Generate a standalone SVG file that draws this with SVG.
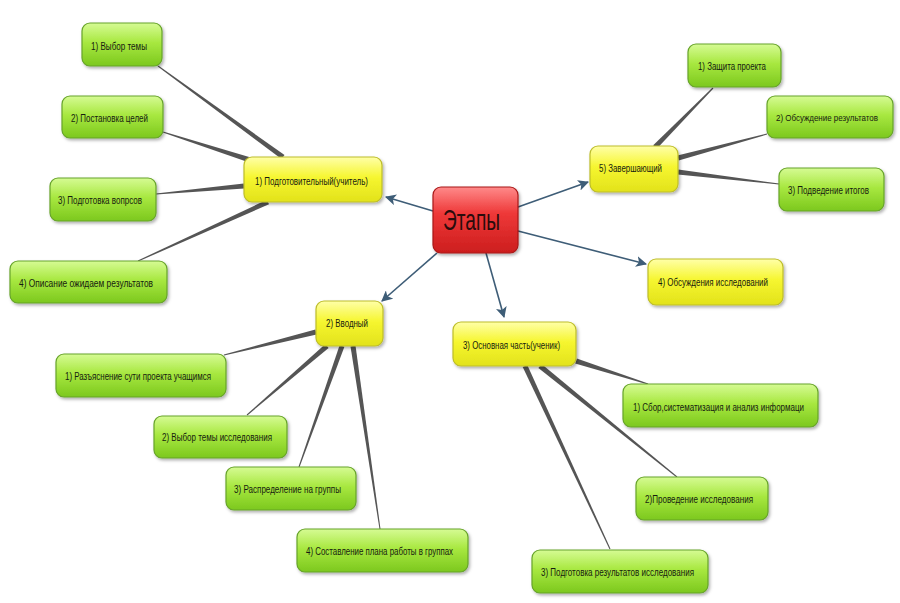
<svg xmlns="http://www.w3.org/2000/svg" width="900" height="603" viewBox="0 0 900 603">
<defs>
<linearGradient id="gGreen" x1="0" y1="0" x2="0" y2="1">
<stop offset="0" stop-color="#d6fb94"/>
<stop offset="0.45" stop-color="#a8e840"/>
<stop offset="1" stop-color="#7cc81e"/>
</linearGradient>
<linearGradient id="gYellow" x1="0" y1="0" x2="0" y2="1">
<stop offset="0" stop-color="#ffffa8"/>
<stop offset="0.45" stop-color="#f6f630"/>
<stop offset="1" stop-color="#e2e21a"/>
</linearGradient>
<linearGradient id="gRed" x1="0" y1="0" x2="0" y2="1">
<stop offset="0" stop-color="#ff8a8a"/>
<stop offset="0.4" stop-color="#ee3838"/>
<stop offset="1" stop-color="#cc1e1e"/>
</linearGradient>
<filter id="sh" x="-10%" y="-20%" width="130%" height="150%">
<feDropShadow dx="1.5" dy="2" stdDeviation="1.5" flood-color="#000" flood-opacity="0.3"/>
</filter>
<marker id="arr" viewBox="0 0 10 10" refX="9" refY="5" markerWidth="11" markerHeight="11" markerUnits="userSpaceOnUse" orient="auto">
<path d="M0,0 L10,5 L0,10 L2.5,5 Z" fill="#3e5d77"/>
</marker>
<style>
.g{fill:url(#gGreen);stroke:#66a32a;stroke-width:1.2;filter:url(#sh)}
.y{fill:url(#gYellow);stroke:#bdbd2a;stroke-width:1.2;filter:url(#sh)}
.r{fill:url(#gRed);stroke:#a81818;stroke-width:1.2;filter:url(#sh)}
text{font-family:"Liberation Sans Narrow","Liberation Sans","DejaVu Sans Condensed",sans-serif;font-size:11px;fill:#161c10;text-anchor:middle}
.sm{font-size:9px}
.big{font-size:30px;fill:#2a0c0c}
.c{fill:#555}
.a{stroke:#3e5d77;stroke-width:1.6;fill:none;marker-end:url(#arr)}
</style>
</defs>
<rect width="900" height="603" fill="#ffffff"/>

<g id="connectors">
<polygon class="c" points="284.5,155.0 158.3,65.6 157.7,66.4 281.5,159.0"/>
<polygon class="c" points="250.8,157.6 163.2,131.5 162.8,132.5 249.2,162.4"/>
<polygon class="c" points="243.8,183.5 156.0,193.5 156.1,194.5 244.2,188.5"/>
<polygon class="c" points="267.0,199.7 137.8,260.5 138.2,261.5 269.0,204.3"/>
<polygon class="c" points="656.8,148.8 713.4,88.4 712.6,87.6 653.2,145.2"/>
<polygon class="c" points="678.7,160.4 767.1,134.5 766.9,133.5 677.4,155.6"/>
<polygon class="c" points="677.7,174.5 778.9,184.5 779.1,183.5 678.3,169.5"/>
<polygon class="c" points="315.4,329.6 223.9,354.5 224.1,355.5 316.6,334.4"/>
<polygon class="c" points="325.4,344.1 246.7,414.6 247.3,415.4 328.6,347.9"/>
<polygon class="c" points="339.6,345.2 298.5,466.8 299.5,467.2 344.4,346.8"/>
<polygon class="c" points="350.5,346.4 379.5,529.1 380.5,528.9 355.5,345.6"/>
<polygon class="c" points="575.2,363.4 647.8,384.5 648.2,383.5 576.8,358.6"/>
<polygon class="c" points="538.4,367.9 676.7,477.4 677.3,476.6 541.6,364.1"/>
<polygon class="c" points="522.7,367.1 609.5,549.2 610.5,548.8 527.3,364.9"/>
<line class="a" x1="433" y1="211" x2="386" y2="197"/>
<line class="a" x1="518" y1="207" x2="588" y2="182"/>
<line class="a" x1="518" y1="231" x2="646" y2="264"/>
<line class="a" x1="486" y1="253" x2="504" y2="317"/>
<line class="a" x1="437" y1="253" x2="382" y2="301"/>
</g>

<g id="n-etapy"><rect class="r" x="433" y="187" width="85" height="66" rx="8"/><text class="big" x="471.5" y="230" textLength="57" lengthAdjust="spacingAndGlyphs">Этапы</text></g>

<g id="n-prep"><rect class="y" x="244" y="157" width="138" height="45" rx="8"/><text x="311.5" y="185" textLength="113" lengthAdjust="spacingAndGlyphs">1) Подготовительный(учитель)</text></g>
<g id="n-prep-1"><rect class="g" x="82" y="23" width="80" height="43" rx="8"/><text x="119" y="50" textLength="56" lengthAdjust="spacingAndGlyphs">1) Выбор темы</text></g>
<g id="n-prep-2"><rect class="g" x="62" y="96" width="101" height="42" rx="8"/><text x="109.5" y="122" textLength="77" lengthAdjust="spacingAndGlyphs">2) Постановка целей</text></g>
<g id="n-prep-3"><rect class="g" x="50" y="178" width="106" height="43" rx="8"/><text x="100" y="204" textLength="84" lengthAdjust="spacingAndGlyphs">3) Подготовка вопрсов</text></g>
<g id="n-prep-4"><rect class="g" x="10" y="261" width="157" height="42" rx="8"/><text x="86" y="287" textLength="134" lengthAdjust="spacingAndGlyphs">4) Описание ожидаем результатов</text></g>

<g id="n-final"><rect class="y" x="590" y="146" width="88" height="46" rx="8"/><text x="630.5" y="172" textLength="63" lengthAdjust="spacingAndGlyphs">5) Завершающий</text></g>
<g id="n-final-1"><rect class="g" x="688" y="44" width="93" height="43" rx="8"/><text x="732" y="70" textLength="68" lengthAdjust="spacingAndGlyphs">1) Защита проекта</text></g>
<g id="n-final-2"><rect class="g" x="767" y="96" width="126" height="42" rx="8"/><text class="sm" x="827" y="121" textLength="102" lengthAdjust="spacingAndGlyphs">2) Обсуждение результатов</text></g>
<g id="n-final-3"><rect class="g" x="779" y="168" width="105" height="43" rx="8"/><text x="828.5" y="194" textLength="81" lengthAdjust="spacingAndGlyphs">3) Подведение итогов</text></g>

<g id="n-discuss"><rect class="y" x="648" y="259" width="135" height="46" rx="8"/><text x="713" y="286" textLength="110" lengthAdjust="spacingAndGlyphs">4) Обсуждения исследований</text></g>

<g id="n-intro"><rect class="y" x="316" y="301" width="67" height="45" rx="8"/><text x="347" y="327" textLength="42" lengthAdjust="spacingAndGlyphs">2) Вводный</text></g>
<g id="n-intro-1"><rect class="g" x="56" y="354" width="170" height="43" rx="8"/><text x="138" y="380" textLength="146" lengthAdjust="spacingAndGlyphs">1) Разъяснение сути проекта учащимся</text></g>
<g id="n-intro-2"><rect class="g" x="154" y="416" width="133" height="42" rx="8"/><text x="217" y="441" textLength="110" lengthAdjust="spacingAndGlyphs">2) Выбор темы исследования</text></g>
<g id="n-intro-3"><rect class="g" x="226" y="467" width="130" height="43" rx="8"/><text x="287.5" y="493" textLength="107" lengthAdjust="spacingAndGlyphs">3) Распределение на группы</text></g>
<g id="n-intro-4"><rect class="g" x="297" y="529" width="171" height="43" rx="8"/><text x="379.5" y="555" textLength="147" lengthAdjust="spacingAndGlyphs">4) Составление плана работы в группах</text></g>

<g id="n-main"><rect class="y" x="453" y="322" width="123" height="44" rx="8"/><text x="511.5" y="349" textLength="97" lengthAdjust="spacingAndGlyphs">3) Основная часть(ученик)</text></g>
<g id="n-main-1"><rect class="g" x="623" y="384" width="195" height="43" rx="8"/><text x="718.5" y="411" textLength="171" lengthAdjust="spacingAndGlyphs">1) Сбор,систематизация и анализ информаци</text></g>
<g id="n-main-2"><rect class="g" x="636" y="477" width="132" height="43" rx="8"/><text x="699" y="503" textLength="108" lengthAdjust="spacingAndGlyphs">2)Проведение исследования</text></g>
<g id="n-main-3"><rect class="g" x="532" y="550" width="176" height="43" rx="8"/><text x="617.5" y="576" textLength="153" lengthAdjust="spacingAndGlyphs">3) Подготовка результатов исследования</text></g>
</svg>
